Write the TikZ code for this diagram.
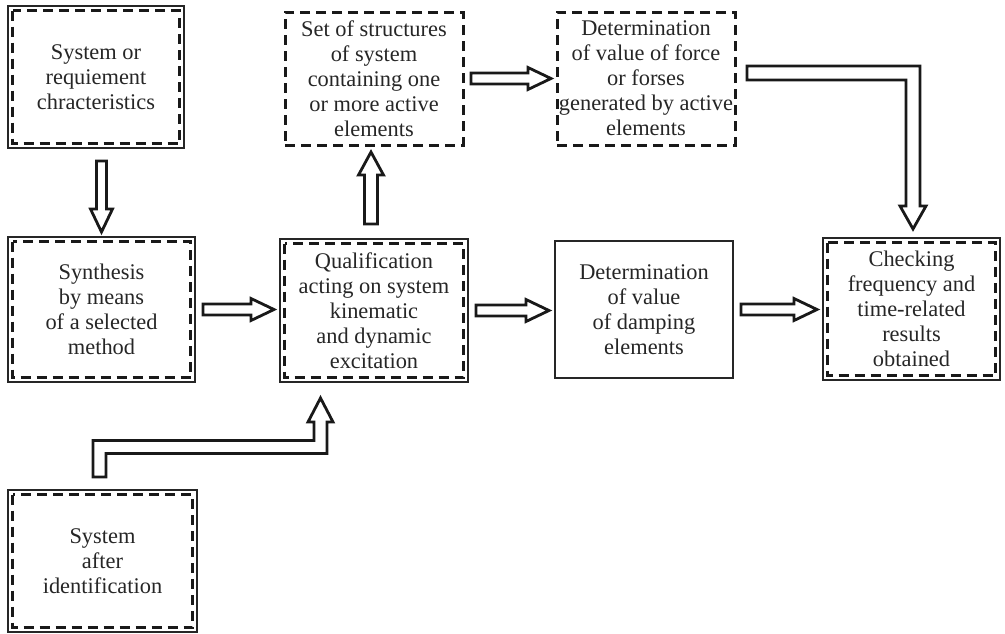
\documentclass[tikz,border=0pt]{standalone}
\usepackage{fontspec}
\setmainfont{Liberation Serif}
\usetikzlibrary{calc}

% hollow block arrow pointing right, from one box to the next
\newcommand{\fatright}[2]{%
  \draw[hollow] ($(#1)+(8,-5.5)$) -- ($(#2 |- #1)+(-29,-5.5)$) -- ($(#2 |- #1)+(-29,-11)$)
    -- ($(#2 |- #1)+(-6,0)$) -- ($(#2 |- #1)+(-29,11)$) -- ($(#2 |- #1)+(-29,5.5)$)
    -- ($(#1)+(8,5.5)$) -- cycle;}

\begin{document}
\begin{tikzpicture}[
  x=0.5pt, y=-0.5pt,
  every node/.style={font=\fontsize{11.2}{12.5}\selectfont, text=black!85, align=center, inner sep=0pt, outer sep=0pt},
  twoframe/.style={rectangle, draw=black!85, line width=1pt},
  dashframe/.style={rectangle, draw=black!90, line width=1.5pt, dash pattern=on 5pt off 3pt},
  plainframe/.style={rectangle, draw=black!85, line width=1pt},
  innerdash/.style={draw=black!90, line width=1.4pt, dash pattern=on 5pt off 3pt},
  hollow/.style={draw=black!90, fill=white, line width=1.4pt, line join=miter}
]
\useasboundingbox (0,0) rectangle (1005,633);

% Left column
\node[twoframe, minimum width=88pt, minimum height=71pt] (req) at (96,77) {System or\\requiement\\chracteristics};
\node[twoframe, minimum width=93.5pt, minimum height=72.5pt] (synth) at (101.5,309.5) {Synthesis\\by means\\of a selected\\method};
\node[twoframe, minimum width=94.5pt, minimum height=71pt] (ident) at (102.5,561) {System\\after\\identification};

% Middle column
\node[dashframe, minimum width=89pt, minimum height=66.5pt] (sets) at (374,78.5) {Set of structures\\of system\\containing one\\or more active\\elements};
\node[twoframe, minimum width=94pt, minimum height=71.5pt] (qual) at (374,310.5) {Qualification\\acting on system\\kinematic\\and dynamic\\excitation};

% Right part
\node[dashframe, minimum width=89pt, minimum height=66.5pt] (force) at (646,78.5) {Determination\\of value of force\\or forses\\generated by active\\elements};
\node[plainframe, minimum width=89pt, minimum height=68.5pt] (damp) at (644,309.5) {Determination\\of value\\of damping\\elements};
\node[twoframe, minimum width=88.5pt, minimum height=71pt] (check) at (911.5,309) {Checking\\frequency and\\time-related\\results\\obtained};

% Inner dashed frames
\foreach \n in {req,synth,qual,check,ident}
  \draw[innerdash] ([shift={(4.5,4.5)}]\n.north west) rectangle ([shift={(-4.5,-4.5)}]\n.south east);

% Straight arrows
\draw[hollow] ($(synth.north |- req.south)+(-5,13)$) -- ($(synth.north)+(-5,-28)$) -- ($(synth.north)+(-11,-28)$)
  -- ($(synth.north)+(0,-5)$) -- ($(synth.north)+(11,-28)$) -- ($(synth.north)+(5,-28)$)
  -- ($(synth.north |- req.south)+(5,13)$) -- cycle;
\fatright{synth.east}{qual.west}
\fatright{qual.east}{damp.west}
\fatright{damp.east}{check.west}
\fatright{sets.east}{force.west}
\draw[hollow] ($(qual.north)+(-9.5,-15)$) -- ($(sets.south)+(-9.5,30)$) -- ($(sets.south)+(-15.5,30)$)
  -- ($(sets.south)+(-3,7)$) -- ($(sets.south)+(9.5,30)$) -- ($(sets.south)+(3.5,30)$)
  -- ($(qual.north)+(3.5,-15)$) -- cycle;

% Bent arrow: force -> check
\coordinate (fs) at ($(force.east)+(12,-5.5)$);
\coordinate (ft) at ($(check.north)+(1.5,-9)$);
\draw[hollow] ($(fs)+(0,-7)$) -- ($(ft |- fs)+(7,-7)$) -- ($(ft)+(7,-23)$) -- ($(ft)+(13,-23)$) -- (ft)
  -- ($(ft)+(-13,-23)$) -- ($(ft)+(-7,-23)$) -- ($(ft |- fs)+(-7,7)$) -- ($(fs)+(0,7)$) -- cycle;

% Bent arrow: ident -> qual
\coordinate (is) at ($(ident.north)+(-3,-13)$);
\coordinate (it) at ($(qual.south)+(-53.5,16)$);
\coordinate (ic) at ($(is)+(0,-30)$);
\draw[hollow] ($(is)+(-6.5,0)$) -- ($(is |- ic)+(-6.5,-6.5)$) -- ($(it |- ic)+(-6.5,-6.5)$) -- ($(it)+(-6.5,24)$)
  -- ($(it)+(-12.5,24)$) -- (it) -- ($(it)+(12.5,24)$) -- ($(it)+(6.5,24)$) -- ($(it |- ic)+(6.5,6.5)$)
  -- ($(is |- ic)+(6.5,6.5)$) -- ($(is)+(6.5,0)$) -- cycle;

\end{tikzpicture}
\end{document}
